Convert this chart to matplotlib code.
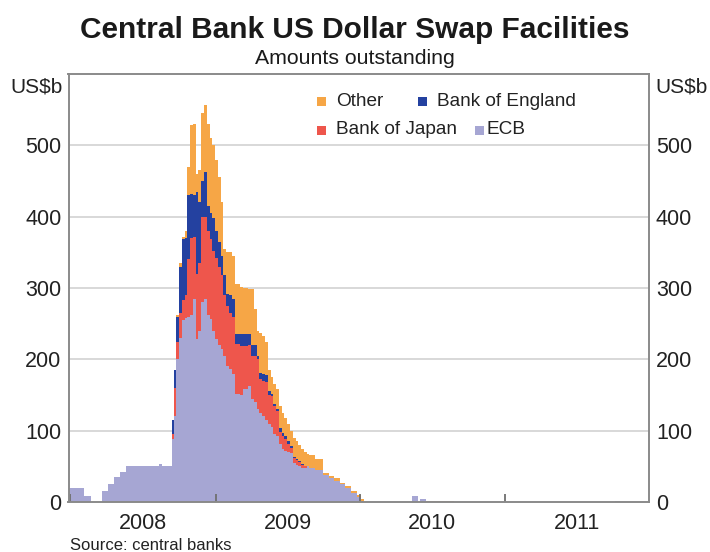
import matplotlib
matplotlib.use("Agg")
import matplotlib.pyplot as plt
import matplotlib.dates as mdates
from matplotlib.patches import Rectangle
import pandas as pd

# Weekly-ish amounts outstanding (US$b), step values from each date onward
dates = [
    '2007-12-20', '2008-02-05', '2008-02-22', '2008-03-21', '2008-04-04',
    '2008-04-20', '2008-05-06', '2008-05-21', '2008-08-11', '2008-08-20',
    '2008-09-12', '2008-09-17', '2008-09-24', '2008-10-01', '2008-10-08',
    '2008-10-15', '2008-10-22', '2008-10-29', '2008-11-05', '2008-11-12',
    '2008-11-19', '2008-11-26', '2008-12-03', '2008-12-10', '2008-12-17',
    '2008-12-24', '2008-12-31', '2009-01-07', '2009-01-14', '2009-01-21',
    '2009-01-28', '2009-02-04', '2009-02-11', '2009-02-18', '2009-03-04',
    '2009-03-11', '2009-03-25', '2009-04-01', '2009-04-08', '2009-04-15',
    '2009-04-22', '2009-04-29', '2009-05-06', '2009-05-13', '2009-05-20',
    '2009-05-27', '2009-06-03', '2009-06-10', '2009-06-17', '2009-06-24',
    '2009-07-01', '2009-07-08', '2009-07-15', '2009-07-22', '2009-07-29',
    '2009-08-05', '2009-08-12', '2009-08-19', '2009-08-26', '2009-09-09',
    '2009-09-30', '2009-10-14', '2009-10-28', '2009-11-11', '2009-11-25',
    '2009-12-09', '2009-12-23', '2010-01-04', '2010-01-11', '2010-05-12',
    '2010-05-26', '2010-06-02', '2010-06-16', '2010-08-25', '2011-10-05',
    '2011-10-19', '2011-12-31',
]
ecb = [
    20, 8, 0, 15, 25, 35, 42, 50, 53, 50,
    88, 120, 200, 230, 255, 258, 260, 262, 284, 228,
    240, 280, 284, 262, 256, 240, 228, 220, 215, 205,
    190, 186, 180, 152, 150, 158, 162, 145, 140, 130,
    125, 120, 115, 110, 105, 96, 92, 82, 75, 72,
    70, 68, 55, 52, 50, 48, 48, 50, 48, 45,
    38, 34, 30, 25, 20, 13, 7, 2, 0, 8,
    0, 4, 0, 0, 1.5, 0, 0,
]
boj = [
    0, 0, 0, 0, 0, 0, 0, 0, 0, 0,
    7, 40, 25, 35, 28, 32, 80, 108, 88, 92,
    95, 120, 116, 118, 112, 112, 114, 110, 103, 85,
    85, 79, 80, 70, 68, 60, 58, 60, 64, 70,
    47, 50, 53, 40, 43, 39, 36, 16, 17, 16,
    12, 8, 7, 7, 6, 4, 2, 0, 0, 0,
    0, 0, 0, 0, 0, 0, 0, 0, 0, 0,
    0, 0, 0, 0, 0, 0, 0,
]
boe = [
    0, 0, 0, 0, 0, 0, 0, 0, 0, 0,
    20, 25, 35, 65, 85, 80, 90, 62, 58, 115,
    85, 50, 62, 35, 37, 46, 38, 35, 27, 28,
    17, 25, 25, 14, 18, 18, 16, 15, 16, 5,
    9, 10, 10, 5, 4, 3, 2, 6, 5, 4,
    4, 3, 1, 1, 1, 1, 0, 0, 0, 0,
    0, 0, 0, 0, 0, 0, 0, 0, 0, 0,
    0, 0, 0, 0, 0, 0, 0,
]
other = [
    0, 0, 0, 0, 0, 0, 0, 0, 0, 0,
    0, 0, 2, 5, 4, 10, 40, 96, 100, 25,
    45, 95, 94, 115, 105, 102, 100, 90, 75, 37,
    58, 60, 60, 69, 66, 64, 62, 78, 50, 35,
    56, 53, 47, 30, 23, 27, 28, 31, 28, 26,
    24, 21, 27, 25, 23, 21, 20, 17, 18, 15,
    3, 3, 3, 2, 3, 3, 3, 2, 0, 0,
    0, 0, 1, 0, 0, 0, 0,
]

series = [('ECB', ecb, '#a6a6d3'),
          ('Bank of Japan', boj, '#ee564c'),
          ('Bank of England', boe, '#2441a0'),
          ('Other', other, '#f6a646')]
yticks = [0, 100, 200, 300, 400, 500]

W, H = 710, 552
fig = plt.figure(figsize=(W / 100, H / 100), dpi=100)
plt.rcParams['font.family'] = ['Liberation Sans', 'DejaVu Sans']

left, right, top, bottom = 68.5, 649, 74, 502
ax = fig.add_axes([left / W, 1 - bottom / H, (right - left) / W, (bottom - top) / H])

x = pd.to_datetime(dates)

# horizontal grid under the areas
for yv in yticks[1:]:
    ax.axhline(yv, color='#d8d8d8', lw=1.4, zorder=0.5)

# cumulative tops, then paint from the top layer down so no seams show
tops = []
running = [0.0] * len(dates)
for name, vals, col in series:
    running = [r + v for r, v in zip(running, vals)]
    tops.append((running, col))
for z, (upper, col) in enumerate(reversed(tops)):
    ax.fill_between(x, 0, upper, step='post', facecolor=col, lw=0,
                    zorder=1 + z * 0.1)

ax.set_xlim(pd.Timestamp('2007-12-27'), pd.Timestamp('2011-12-31'))
ax.set_ylim(0, 600)
ax.set_yticks(yticks)
ax.tick_params(axis='y', length=0, labelsize=15.5, labelleft=True,
               labelright=True, pad=5, colors='#222222')

# year boundaries as tick marks, labels centred in each year
ax.xaxis.set_major_locator(mdates.YearLocator())
ax.xaxis.set_major_formatter(plt.NullFormatter())
ax.xaxis.set_minor_locator(mdates.MonthLocator(bymonth=7, bymonthday=2))
ax.xaxis.set_minor_formatter(mdates.DateFormatter('%Y'))
ax.tick_params(axis='x', which='major', direction='in', length=6,
               width=1.3, color='#6f6f6f')
ax.tick_params(axis='x', which='minor', length=0, labelsize=15.5, pad=8,
               labelcolor='#222222')

for sp in ax.spines.values():
    sp.set_color('#8a8a8a')
    sp.set_linewidth(1.4)
    sp.set_zorder(3)

fig.text(0.5, 1 - 30 / H, 'Central Bank US Dollar Swap Facilities',
         ha='center', va='center', fontsize=21.5, fontweight='bold', color='#1a1a1a')
fig.text(0.5, 1 - 59 / H, 'Amounts outstanding',
         ha='center', va='center', fontsize=15.3, color='#1a1a1a')
fig.text(63 / W, 1 - 87 / H, 'US$b', ha='right', va='center', fontsize=15,
         color='#222222')
fig.text(655 / W, 1 - 87 / H, 'US$b', ha='left', va='center', fontsize=15,
         color='#222222')
fig.text(70 / W, 1 - 545 / H, 'Source: central banks', ha='left', va='center',
         fontsize=12, color='#222222')

# legend laid out like the original, two rows of two
legend_items = [('Other', '#f6a646', 317, 336, 101.5),
                ('Bank of England', '#2441a0', 418, 437.5, 101.5),
                ('Bank of Japan', '#ee564c', 317, 336, 130),
                ('ECB', '#a6a6d3', 475, 487, 130)]
for name, col, sx, tx, ty in legend_items:
    fig.patches.append(Rectangle((sx / W, 1 - (ty + 4.5) / H), 9 / W, 9 / H,
                                 transform=fig.transFigure, color=col, lw=0))
    fig.text(tx / W, 1 - ty / H, name, ha='left', va='center', fontsize=13.7,
             color='#222222')

fig.savefig('out.png', dpi=100)
